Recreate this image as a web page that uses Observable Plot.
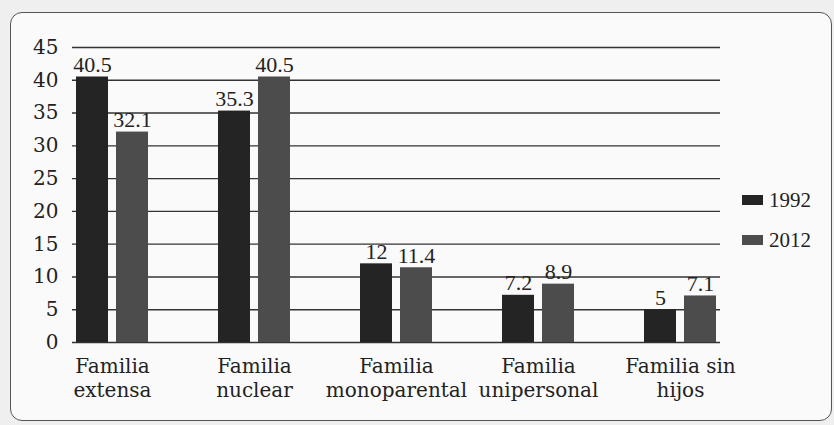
<!DOCTYPE html>
<html>
<head>
<meta charset="utf-8">
<script src="https://cdn.jsdelivr.net/npm/d3@7"></script>
<script src="https://cdn.jsdelivr.net/npm/@observablehq/plot@0.6"></script>
<style>
  html, body { margin: 0; padding: 0; background: #f0f0f0; }
  #wrap { position: relative; width: 834px; height: 425px; overflow: hidden; background: #efefef; }
  #frame { position: absolute; left: 10px; top: 12px; width: 822px; height: 409px; border: 1px solid #555; border-radius: 12px; background: #fafafa; box-sizing: border-box; }
  #chart { position: absolute; left: 0; top: 0; }
  #legend { position: absolute; left: 742px; top: 186px; font-family: "Liberation Serif", serif; font-size: 21px; color: #222; }
  .item { display: flex; align-items: center; height: 28px; margin-bottom: 12px; }
  .sw { width: 21px; height: 10px; margin-right: 6px; }
</style>
</head>
<body>
<div id="wrap">
  <div id="frame"></div>
  <div id="chart"></div>
  <div id="legend"></div>
</div>
<script>
const categories = ["Familia\nextensa", "Familia\nnuclear", "Familia\nmonoparental", "Familia\nunipersonal", "Familia sin\nhijos"];
const series = ["1992", "2012"];
const values1992 = [40.5, 35.3, 12, 7.2, 5];
const values2012 = [32.1, 40.5, 11.4, 8.9, 7.1];
const yTicks = [0, 5, 10, 15, 20, 25, 30, 35, 40, 45];
const colors = ["#242424", "#4c4c4c"];

const d1992 = categories.map((c, i) => ({category: c, value: values1992[i]}));
const d2012 = categories.map((c, i) => ({category: c, value: values2012[i]}));

const chart = Plot.plot({
  width: 834,
  height: 425,
  marginLeft: 72,
  marginRight: 114,
  marginTop: 47,
  marginBottom: 83,
  style: {background: "transparent", color: "#222"},
  x: {domain: categories, paddingInner: 0.495, paddingOuter: 0.021},
  y: {domain: [0, 45]},
  marks: [
    Plot.ruleY(yTicks, {stroke: "#333", strokeWidth: 1.4}),
    Plot.barY(d1992, {x: "category", y: "value", fill: colors[0], insetRight: 40}),
    Plot.barY(d2012, {x: "category", y: "value", fill: colors[1], insetLeft: 40}),
    Plot.text(d1992, {x: "category", y: "value", text: d => String(d.value), dx: -20, dy: -5, lineAnchor: "bottom", fontSize: 22, fontFamily: "Liberation Serif", fill: "#222"}),
    Plot.text(d2012, {x: "category", y: "value", text: d => String(d.value), dx: 20, dy: -5, lineAnchor: "bottom", fontSize: 22, fontFamily: "Liberation Serif", fill: "#222"}),
    Plot.axisY({ticks: yTicks, tickSize: 0, tickPadding: 14, fontSize: 20, fontFamily: "DejaVu Serif", label: null}),
    Plot.axisX({tickSize: 0, tickPadding: 13, fontSize: 20, fontFamily: "DejaVu Serif", lineHeight: 1.2, label: null})
  ]
});
document.getElementById("chart").appendChild(chart);

const legend = document.getElementById("legend");
series.forEach((s, i) => {
  const item = document.createElement("div");
  item.className = "item";
  item.innerHTML = `<span class="sw" style="background:${colors[i]}"></span><span>${s}</span>`;
  legend.appendChild(item);
});
</script>
</body>
</html>
